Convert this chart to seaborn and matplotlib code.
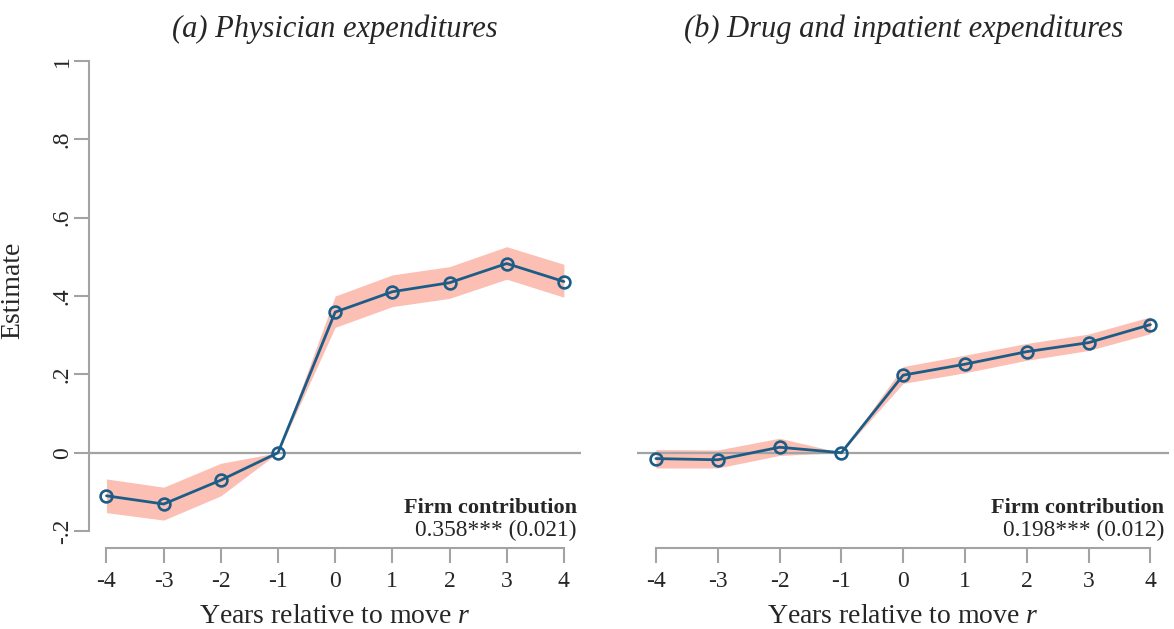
import matplotlib
matplotlib.use('Agg')
import matplotlib.pyplot as plt
import seaborn as sns
import pandas as pd

# Event-study estimates, years relative to move
years = [-4, -3, -2, -1, 0, 1, 2, 3, 4]

phys_est = [-0.110, -0.131, -0.070, 0.0, 0.359, 0.411, 0.434, 0.483, 0.437]
phys_lo = [-0.153, -0.172, -0.110, 0.0, 0.320, 0.373, 0.394, 0.443, 0.397]
phys_hi = [-0.067, -0.088, -0.027, 0.0, 0.400, 0.454, 0.475, 0.526, 0.481]

drug_est = [-0.015, -0.018, 0.014, 0.0, 0.198, 0.226, 0.258, 0.281, 0.327]
drug_lo = [-0.039, -0.039, -0.007, 0.0, 0.177, 0.204, 0.236, 0.261, 0.304]
drug_hi = [0.008, 0.007, 0.037, 0.0, 0.220, 0.249, 0.279, 0.303, 0.347]

panel_titles = ['(a) Physician expenditures', '(b) Drug and inpatient expenditures']
firm_contrib = ['0.358*** (0.021)', '0.198*** (0.012)']

ytick_vals = [-0.2, 0, 0.2, 0.4, 0.6, 0.8, 1.0]
ytick_labels = ['-.2', '0', '.2', '.4', '.6', '.8', '1']

sns.set_style('white')
plt.rcParams['font.family'] = ['Liberation Serif', 'DejaVu Serif']
plt.rcParams['mathtext.fontset'] = 'custom'
plt.rcParams['mathtext.rm'] = 'Liberation Serif'
plt.rcParams['mathtext.it'] = 'Liberation Serif:italic'
plt.rcParams['axes.unicode_minus'] = False

line_col = '#1c5d88'
band_col = '#fcbfb3'
axis_col = '#a3a3a3'

fig = plt.figure(figsize=(11.74, 6.29), dpi=100)
ax1 = fig.add_axes([0.0761, 0.1283, 0.4188, 0.7747])
ax2 = fig.add_axes([0.5429, 0.1283, 0.4528, 0.7747])

panels = [
    (ax1, phys_est, phys_lo, phys_hi),
    (ax2, drug_est, drug_lo, drug_hi),
]

for i, (ax, est, lo, hi) in enumerate(panels):
    df = pd.DataFrame({'year': years, 'est': est, 'lo': lo, 'hi': hi})
    ax.fill_between(df['year'], df['lo'], df['hi'], color=band_col, lw=0, zorder=1)
    ax.axhline(0, color=axis_col, lw=1.6, zorder=2)
    sns.lineplot(data=df, x='year', y='est', ax=ax, color=line_col, lw=2.0,
                 marker='o', markersize=8.5, markerfacecolor='none',
                 markeredgecolor=line_col, markeredgewidth=1.9, zorder=3)

    ax.set_xlim(-4.3, 4.3)
    ax.set_ylim(-0.244, 1.0)
    ax.set_xticks(years)
    ax.set_xticklabels([str(y) for y in years])
    ax.tick_params(axis='x', length=11, width=1.5, color=axis_col, pad=5,
                   labelsize=17, direction='out', bottom=True)
    ax.set_xlabel('Years relative to move $r$', fontsize=20, labelpad=9)
    ax.set_title(panel_titles[i], fontsize=22, style='italic', pad=17)

    for s in ['top', 'right']:
        ax.spines[s].set_visible(False)
    ax.spines['bottom'].set_bounds(-4, 4)
    ax.spines['bottom'].set_color(axis_col)
    ax.spines['bottom'].set_linewidth(1.5)

    ax.text(0.991, 0.0827, 'Firm contribution', transform=ax.transAxes,
            ha='right', va='center', fontsize=16, fontweight='bold')
    ax.text(0.991, 0.0376, firm_contrib[i], transform=ax.transAxes,
            ha='right', va='center', fontsize=16.8)

# left panel y-axis
ax1.set_yticks(ytick_vals)
ax1.set_yticklabels(ytick_labels, rotation=90, va='center')
ax1.tick_params(axis='y', length=11, width=1.5, color=axis_col, pad=1,
                labelsize=17, direction='out', left=True)
ax1.spines['left'].set_bounds(-0.2, 1.0)
ax1.spines['left'].set_color(axis_col)
ax1.spines['left'].set_linewidth(1.5)
ax1.set_ylabel('Estimate', fontsize=20)
ax1.yaxis.set_label_coords(-0.131, 0.53)

# right panel: no y-axis
ax2.spines['left'].set_visible(False)
ax2.set_yticks([])
ax2.set_ylabel('')

fig.savefig('out.png', dpi=100)
